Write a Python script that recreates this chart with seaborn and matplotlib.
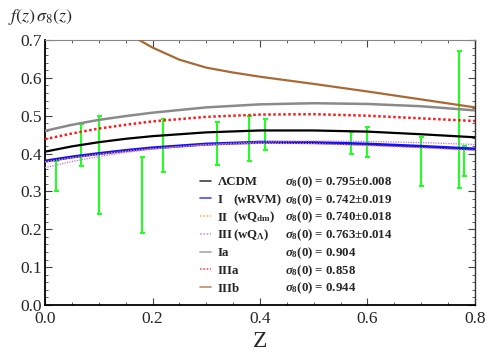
import numpy as np
import matplotlib.pyplot as plt
import seaborn as sns
from matplotlib.lines import Line2D
from matplotlib.font_manager import FontProperties
from matplotlib.ticker import MultipleLocator

# --- datos ---
z_grid = [0.0, 0.05, 0.1, 0.15, 0.2, 0.3, 0.4, 0.5, 0.6, 0.7, 0.8]
lcdm = [0.405, 0.419, 0.430, 0.439, 0.446, 0.456, 0.461, 0.461, 0.458, 0.451, 0.443]
model_I = [0.380, 0.391, 0.400, 0.408, 0.415, 0.425, 0.430, 0.429, 0.425, 0.419, 0.412]
model_II = [0.378, 0.389, 0.398, 0.406, 0.413, 0.423, 0.427, 0.426, 0.421, 0.415, 0.408]
model_III = [0.363, 0.379, 0.392, 0.403, 0.412, 0.424, 0.431, 0.433, 0.432, 0.429, 0.424]
model_Ia = [0.460, 0.476, 0.489, 0.499, 0.508, 0.522, 0.530, 0.533, 0.531, 0.525, 0.514]
model_IIIa = [0.438, 0.453, 0.466, 0.476, 0.485, 0.497, 0.503, 0.504, 0.500, 0.493, 0.486]

z_IIIb = [0.12, 0.15, 0.2, 0.25, 0.3, 0.35, 0.4, 0.5, 0.6, 0.7, 0.8]
model_IIIb = [0.75, 0.72, 0.68, 0.648, 0.627, 0.614, 0.603, 0.584, 0.564, 0.543, 0.522]

z_obs = [0.02, 0.067, 0.10, 0.18, 0.22, 0.32, 0.38, 0.41, 0.57, 0.60, 0.70, 0.77, 0.78]
fs8_obs = [0.34, 0.423, 0.37, 0.29, 0.42, 0.427, 0.44, 0.45, 0.427, 0.43, 0.38, 0.49, 0.38]
fs8_err = [0.04, 0.055, 0.13, 0.10, 0.07, 0.056, 0.06, 0.04, 0.029, 0.04, 0.065, 0.18, 0.04]

names_a = ["ΛCDM", "I", "II", "III", "Ia", "IIIa", "IIIb"]
names_b = ["", "(wRVM)", r"(wQ$_{\mathrm{dm}}$)", r"(wQ$_{\Lambda}$)", "", "", ""]
sigma_txt = [r"$\sigma_8(0)$ = 0.795±0.008", r"$\sigma_8(0)$ = 0.742±0.019",
             r"$\sigma_8(0)$ = 0.740±0.018", r"$\sigma_8(0)$ = 0.763±0.014",
             r"$\sigma_8(0)$ = 0.904", r"$\sigma_8(0)$ = 0.858", r"$\sigma_8(0)$ = 0.944"]

sns.set_theme(style="ticks")
plt.rcParams['font.family'] = ['Liberation Serif', 'DejaVu Serif']
plt.rcParams['mathtext.fontset'] = 'custom'
plt.rcParams['mathtext.rm'] = 'Liberation Serif:bold'
plt.rcParams['mathtext.it'] = 'Liberation Serif:italic:bold'
plt.rcParams['mathtext.bf'] = 'Liberation Serif:bold'

fig = plt.figure(figsize=(4.98, 3.59), dpi=100)
ax = fig.add_axes([0.0904, 0.1504, 0.8634, 0.7382])

# barras de error
ax.errorbar(z_obs, fs8_obs, yerr=fs8_err, fmt='none', ecolor='#22ff22',
            elinewidth=1.5, capsize=1.8, capthick=1.5, zorder=1)

# curvas
estilos = [
    (z_grid, lcdm, 'black', '-', 1.6),
    (z_grid, model_I, '#1010ff', '-', 2.2),
    (z_grid, model_II, '#ff9a30', (0, (1, 1)), 1.0),
    (z_grid, model_III, '#c070e0', (0, (1, 1)), 0.9),
    (z_grid, model_Ia, '#8a8a8a', '-', 1.8),
    (z_grid, model_IIIa, '#ff1a1a', (0, (1, 1)), 1.8),
    (z_IIIb, model_IIIb, '#a86a35', '-', 1.6),
]
for zz, yy, c, ls, lw in estilos:
    sns.lineplot(x=zz, y=yy, color=c, linestyle=ls, linewidth=lw, ax=ax, zorder=3)

ax.set_xlim(0, 0.8)
ax.set_ylim(0, 0.7)
ax.xaxis.set_major_locator(MultipleLocator(0.2))
ax.xaxis.set_minor_locator(MultipleLocator(0.05))
ax.yaxis.set_major_locator(MultipleLocator(0.1))
ax.yaxis.set_minor_locator(MultipleLocator(0.02))
ax.tick_params(which='both', direction='in', top=True, right=True, labelsize=12.5,
               color='#444444')
ax.tick_params(axis='x', pad=4.5)
ax.tick_params(axis='y', pad=2.5)
ax.tick_params(which='major', length=5, width=0.8)
ax.tick_params(which='minor', length=2.5, width=0.6)
ax.xaxis.set_major_formatter(plt.FuncFormatter(lambda v, p: f"{v:.1f}"))
ax.yaxis.set_major_formatter(plt.FuncFormatter(lambda v, p: f"{v:.1f}"))

for s in ['left', 'bottom']:
    ax.spines[s].set_linewidth(1.3)
    ax.spines[s].set_color('black')
ax.spines['right'].set_linewidth(1.0)
ax.spines['right'].set_color('#333333')
ax.spines['top'].set_linewidth(0.8)
ax.spines['top'].set_color('#888888')

ax.set_xlabel('Z', fontsize=17, labelpad=3)
ax.set_ylabel('')
fig.text(0.016, 0.952, r'$f(z)\,\sigma_8(z)$', fontsize=13, ha='left', va='center',
         math_fontfamily='stix')

# leyenda: solo las muestras de linea; los textos se ponen a mano por filas
FS_LEG = 9.3
handles = [Line2D([], [], color=c, linestyle=ls, linewidth=1.2, alpha=0.75)
           for _, _, c, ls, _ in estilos]
leg_font = FontProperties(family='Liberation Serif', weight='bold', size=FS_LEG)
leg = ax.legend(handles, ["Ig"] * len(handles), loc='upper left',
                bbox_to_anchor=(0.3605, 0.486), frameon=False, prop=leg_font,
                handlelength=0.85, handletextpad=0.5, labelspacing=0.44,
                borderpad=0, borderaxespad=0)
for t in leg.get_texts():
    t.set_color('none')

fig.canvas.draw()
inv = fig.transFigure.inverted()
x_b = ax.transAxes.transform((0.437, 0))[0]
x_s = ax.transAxes.transform((0.558, 0))[0]
for t, na, nb, st in zip(leg.get_texts(), names_a, names_b, sigma_txt):
    x0, y0 = t.get_transform().transform((0, 0))
    xa, ya = inv.transform((x0, y0))
    fig.text(xa, ya, na, fontproperties=leg_font, va='baseline', ha='left')
    if nb:
        fig.text(inv.transform((x_b, y0))[0], ya, nb, fontproperties=leg_font,
                 va='baseline', ha='left')
    fig.text(inv.transform((x_s, y0))[0], ya, st, fontproperties=leg_font,
             va='baseline', ha='left')
    t.set_text('')

plt.savefig('out.png', dpi=100)
plt.close()
